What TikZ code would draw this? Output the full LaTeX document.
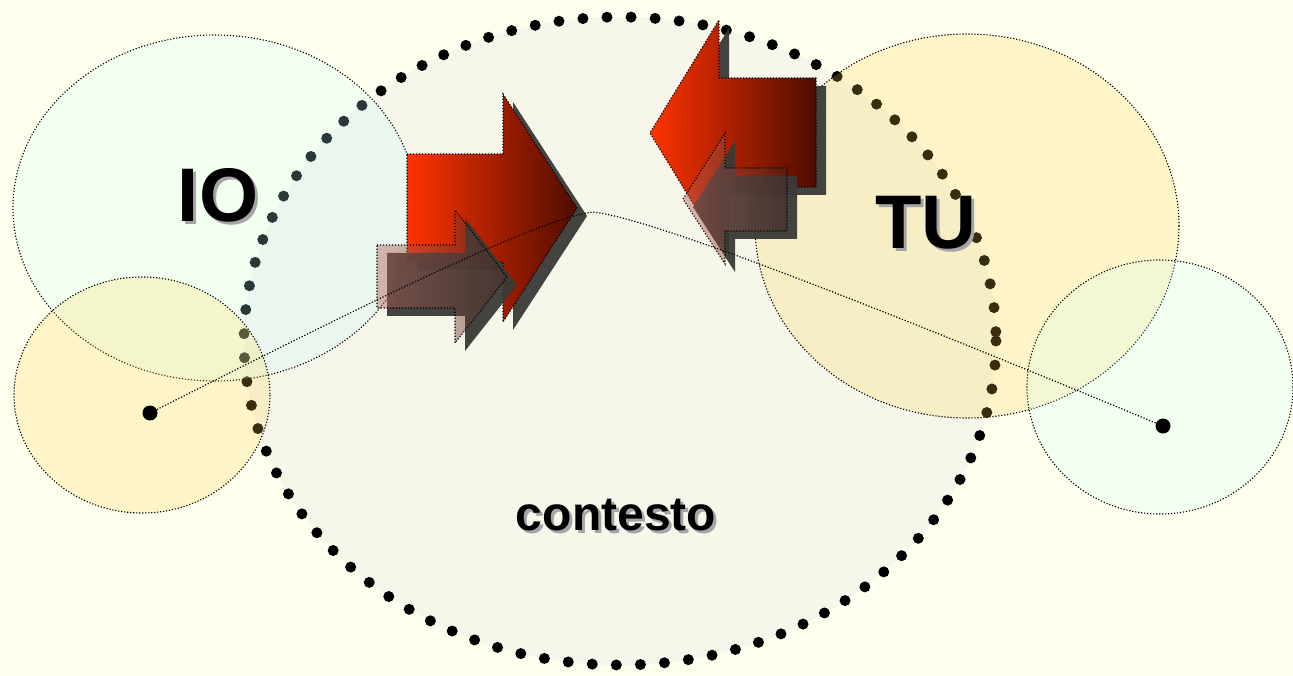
\documentclass[tikz,border=0pt]{standalone}
\usepackage{fontspec}
\setmainfont{Liberation Sans}
\usepackage{tikz}
\usetikzlibrary{shapes.geometric, arrows}
\definecolor{paper}{RGB}{255,255,238}
\definecolor{ctxfill}{RGB}{246,246,234}
\definecolor{mint}{RGB}{200,255,255}
\definecolor{sun}{RGB}{255,212,70}
\definecolor{flame}{RGB}{255,51,0}
\definecolor{ember}{RGB}{80,12,0}
\definecolor{blush}{RGB}{184,99,90}
\definecolor{cocoa}{RGB}{70,40,35}
\definecolor{smoke}{RGB}{58,58,54}
\definecolor{ghost}{RGB}{165,165,165}
\newcommand{\castword}[1]{\rlap{\hspace{3pt}\raisebox{-3pt}{\textcolor{ghost}{#1}}}#1}
\tikzstyle{bubble} = [draw=black, line width=1.1pt, dash pattern=on 1.2pt off 1.8pt, fill opacity=0.22]
\tikzstyle{beads} = [draw=black, line width=11pt, line cap=round, dash pattern=on 0pt off 24.1pt]
\tikzstyle{dotline} = [draw=black, line width=1.1pt, dash pattern=on 1.2pt off 1.8pt]
\tikzstyle{shadowfill} = [fill=smoke, fill opacity=0.95]
\tikzstyle{bigword} = [font=\bfseries\fontsize{76}{80}\selectfont, inner sep=0pt]
\tikzstyle{smallword} = [font=\bfseries\fontsize{48}{52}\selectfont, inner sep=0pt]
\tikzstyle{link} = [black, line width=1.2pt, dash pattern=on 1.2pt off 1.8pt]
\tikzstyle{enddot} = [circle, fill=black, inner sep=0pt, minimum size=15pt]

\begin{document}
\begin{tikzpicture}[x=1pt, y=-1pt]
\fill[paper] (0,0) rectangle (1293,676);
\useasboundingbox (0,0) rectangle (1293,676);
% context
\fill[ctxfill] (620,341) ellipse (376 and 324);
\draw[beads] (620,341) ellipse (376 and 324);
% the two sides
\draw[bubble, fill=mint] (215,208) ellipse (202 and 173);
\draw[bubble, fill=sun] (142,395) ellipse (128 and 118);
\draw[bubble, fill=sun] (967,226) ellipse (212 and 192);
\draw[bubble, fill=mint] (1160,387) ellipse (133 and 127);
% words
\node[bigword] (io) at (218,197) {\castword{IO}};
\node[bigword] (tu) at (926,224) {\castword{TU}};
\node[smallword] (ctx) at (616,517) {\castword{contesto}};
% arrows towards TU
\path[shadowfill, shift={(10,8)}] (407,154) -- (503,154) -- (503,94) -- (577,208) -- (503,322) -- (503,262) -- (407,262) -- cycle;
\shade[dotline, left color=flame, right color=ember] (407,154) -- (503,154) -- (503,94) -- (577,208) -- (503,322) -- (503,262) -- (407,262) -- cycle;
\path[shadowfill, shift={(10,8)}] (377,245) -- (455,245) -- (455,210) -- (507,277) -- (455,343) -- (455,308) -- (377,308) -- cycle;
\shade[dotline, left color=blush, right color=cocoa, fill opacity=0.45] (377,245) -- (455,245) -- (455,210) -- (507,277) -- (455,343) -- (455,308) -- (377,308) -- cycle;
% arrows towards IO
\path[shadowfill, shift={(10,8)}] (816,78) -- (719,78) -- (719,20) -- (650,133) -- (719,246) -- (719,187) -- (816,187) -- cycle;
\shade[dotline, left color=flame, right color=ember] (816,78) -- (719,78) -- (719,20) -- (650,133) -- (719,246) -- (719,187) -- (816,187) -- cycle;
\path[shadowfill, shift={(10,8)}] (787,168) -- (725,168) -- (725,133) -- (683,199) -- (725,264) -- (725,231) -- (787,231) -- cycle;
\shade[dotline, left color=blush, right color=cocoa, fill opacity=0.45] (787,168) -- (725,168) -- (725,133) -- (683,199) -- (725,264) -- (725,231) -- (787,231) -- cycle;
% link between the two
\node[enddot] (ioDot) at (150,413) {};
\node[enddot] (tuDot) at (1163,426) {};
\coordinate (crest) at (593,212);
\draw[link] (ioDot) .. controls (350,312) and (533,220) .. (crest) .. controls (650,218) and (863,301) .. (tuDot);
\end{tikzpicture}
\end{document}
